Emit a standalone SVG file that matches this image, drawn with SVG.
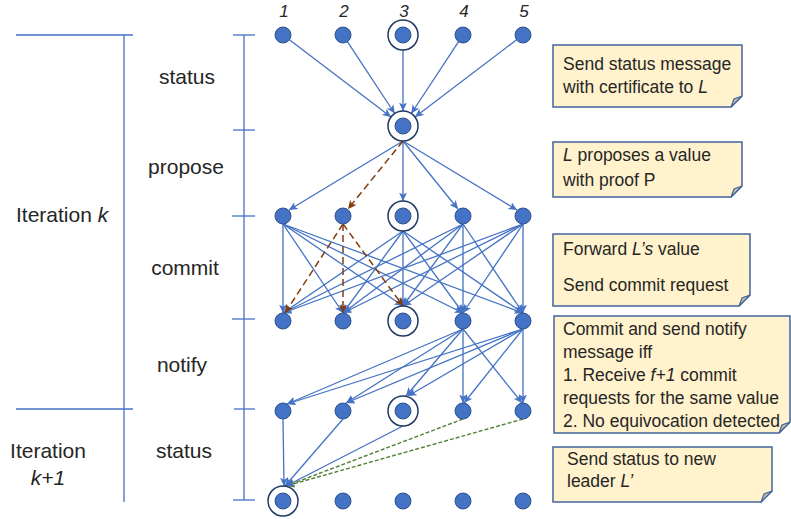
<svg xmlns="http://www.w3.org/2000/svg" width="791" height="519" viewBox="0 0 791 519">
<defs>
<marker id="ab" markerUnits="userSpaceOnUse" markerWidth="9" markerHeight="8" refX="8.5" refY="4" orient="auto"><path d="M0,0 L8.5,4 L0,8 L2.2,4 z" fill="#4472c4"/></marker>
<marker id="ar" markerUnits="userSpaceOnUse" markerWidth="9" markerHeight="8" refX="8.5" refY="4" orient="auto"><path d="M0,0 L8.5,4 L0,8 L2.2,4 z" fill="#843c0c"/></marker>
<marker id="ag" markerUnits="userSpaceOnUse" markerWidth="9" markerHeight="8" refX="8.5" refY="4" orient="auto"><path d="M0,0 L8.5,4 L0,8 L2.2,4 z" fill="#548235"/></marker>
</defs>
<style>
.t{font-family:"Liberation Sans",Arial,sans-serif;fill:#262626}
.side{font-size:21px}
.note{font-size:17.5px}
.num{font-size:17px;font-style:italic;text-anchor:middle}
.i{font-style:italic}
.br{stroke:#4472c4;stroke-width:1.3;fill:none}
.e{stroke:#4472c4;stroke-width:1.3;fill:none;marker-end:url(#ab)}
.eb{stroke:#843c0c;stroke-width:1.5;fill:none;stroke-dasharray:7 4;marker-end:url(#ar)}
.eg{stroke:#548235;stroke-width:1.4;fill:none;stroke-dasharray:4 2;marker-end:url(#ag)}
.n{fill:#4472c4;stroke:#2f528f;stroke-width:1}
.ring{fill:#fff;stroke:#203864;stroke-width:1.5}
.nb{fill:#fff2cc;stroke:#41649e;stroke-width:1.5}
.fold{fill:#c9bfa6;stroke:#41649e;stroke-width:1.2}
</style>
<rect width="791" height="519" fill="#fff"/>

<g id="brackets">
<line class="br" x1="16" y1="35" x2="133" y2="35"/>
<line class="br" x1="124" y1="35" x2="124" y2="502"/>
<line class="br" x1="16" y1="409" x2="133" y2="409"/>
<line class="br" x1="244" y1="35" x2="244" y2="500"/>
<line class="br" x1="233" y1="35" x2="255" y2="35"/>
<line class="br" x1="233" y1="130" x2="255" y2="130"/>
<line class="br" x1="232" y1="216" x2="255" y2="216"/>
<line class="br" x1="232" y1="319" x2="255" y2="319"/>
<line class="br" x1="234" y1="409" x2="255" y2="409"/>
<line class="br" x1="233" y1="500" x2="255" y2="500"/>
</g>

<g id="labels">
<text class="t side" x="187" y="84" text-anchor="middle">status</text>
<text class="t side" x="186" y="174" text-anchor="middle">propose</text>
<text class="t side" x="16" y="222">Iteration <tspan class="i">k</tspan></text>
<text class="t side" x="185" y="275" text-anchor="middle">commit</text>
<text class="t side" x="182" y="372" text-anchor="middle">notify</text>
<text class="t side" x="48" y="458" text-anchor="middle">Iteration</text>
<text class="t side i" x="48" y="485" text-anchor="middle">k+1</text>
<text class="t side" x="184" y="458" text-anchor="middle">status</text>
<text class="t num" x="284" y="17">1</text>
<text class="t num" x="344" y="17">2</text>
<text class="t num" x="404" y="17">3</text>
<text class="t num" x="464" y="17">4</text>
<text class="t num" x="524" y="17">5</text>
</g>

<g id="connectors">
<!-- status -> leader -->
<line class="e" x1="289.4" y1="39.8" x2="391" y2="116.9"/>
<line class="e" x1="347.4" y1="41.7" x2="394.7" y2="113.5"/>
<line class="e" x1="403" y1="50" x2="403" y2="111"/>
<line class="e" x1="458.6" y1="41.7" x2="411.3" y2="113.5"/>
<line class="e" x1="516.6" y1="39.8" x2="415" y2="116.9"/>
<!-- propose -->
<line class="e" x1="403" y1="141" x2="289" y2="210"/>
<line class="e" x1="403" y1="141" x2="403" y2="201"/>
<line class="e" x1="403" y1="141" x2="458" y2="209"/>
<line class="e" x1="403" y1="141" x2="517" y2="210"/>
<line class="eb" x1="403" y1="141" x2="348" y2="209"/>
<!-- commit: B1 -->
<line class="e" x1="283" y1="224" x2="283" y2="313"/>
<line class="e" x1="283" y1="224" x2="343" y2="313"/>
<line class="e" x1="283" y1="224" x2="403" y2="306"/>
<line class="e" x1="283" y1="224" x2="463" y2="313"/>
<line class="e" x1="283" y1="224" x2="523" y2="313"/>
<!-- commit: B3 -->
<line class="e" x1="403" y1="231" x2="283" y2="313"/>
<line class="e" x1="403" y1="231" x2="343" y2="313"/>
<line class="e" x1="403" y1="231" x2="403" y2="306"/>
<line class="e" x1="403" y1="231" x2="463" y2="313"/>
<line class="e" x1="403" y1="231" x2="523" y2="313"/>
<!-- commit: B4 -->
<line class="e" x1="463" y1="224" x2="283" y2="313"/>
<line class="e" x1="463" y1="224" x2="343" y2="313"/>
<line class="e" x1="463" y1="224" x2="403" y2="306"/>
<line class="e" x1="463" y1="224" x2="463" y2="313"/>
<line class="e" x1="463" y1="224" x2="523" y2="313"/>
<!-- commit: B5 -->
<line class="e" x1="523" y1="224" x2="283" y2="313"/>
<line class="e" x1="523" y1="224" x2="343" y2="313"/>
<line class="e" x1="523" y1="224" x2="403" y2="306"/>
<line class="e" x1="523" y1="224" x2="463" y2="313"/>
<line class="e" x1="523" y1="224" x2="523" y2="313"/>
<!-- commit: B2 forwards (dashed) -->
<line class="eb" x1="343" y1="224" x2="285" y2="313"/>
<line class="eb" x1="343" y1="224" x2="343" y2="313"/>
<line class="eb" x1="343" y1="224" x2="403" y2="306"/>
<!-- notify: C4 -->
<line class="e" x1="463" y1="329" x2="287" y2="404"/>
<line class="e" x1="463" y1="329" x2="346" y2="403"/>
<line class="e" x1="463" y1="329" x2="406" y2="396"/>
<line class="e" x1="463" y1="329" x2="463" y2="403"/>
<line class="e" x1="463" y1="329" x2="522" y2="403"/>
<!-- notify: C5 -->
<line class="e" x1="523" y1="329" x2="287" y2="404"/>
<line class="e" x1="523" y1="329" x2="346" y2="403"/>
<line class="e" x1="523" y1="329" x2="408" y2="396"/>
<line class="e" x1="523" y1="329" x2="464" y2="403"/>
<line class="e" x1="523" y1="329" x2="523" y2="403"/>
<!-- status k+1 -->
<line class="eg" x1="463" y1="419" x2="286" y2="486"/>
<line class="eg" x1="523" y1="419" x2="286" y2="486"/>
<line class="e" x1="283" y1="419" x2="284" y2="486"/>
<line class="e" x1="343" y1="419" x2="285" y2="486"/>
<line class="e" x1="403" y1="426" x2="286" y2="486"/>
</g>

<g id="nodes">
<g id="n-a1"><circle class="n" cx="283" cy="35" r="8"/></g>
<g id="n-a2"><circle class="n" cx="343" cy="35" r="8"/></g>
<g id="n-a3"><circle class="ring" cx="403" cy="35" r="15"/><circle class="n" cx="403" cy="35" r="8"/></g>
<g id="n-a4"><circle class="n" cx="463" cy="35" r="8"/></g>
<g id="n-a5"><circle class="n" cx="523" cy="35" r="8"/></g>
<g id="n-leader"><circle class="ring" cx="403" cy="126" r="15"/><circle class="n" cx="403" cy="126" r="8"/></g>
<g id="n-b1"><circle class="n" cx="283" cy="216" r="8"/></g>
<g id="n-b2"><circle class="n" cx="343" cy="216" r="8"/></g>
<g id="n-b3"><circle class="ring" cx="403" cy="216" r="15"/><circle class="n" cx="403" cy="216" r="8"/></g>
<g id="n-b4"><circle class="n" cx="463" cy="216" r="8"/></g>
<g id="n-b5"><circle class="n" cx="523" cy="216" r="8"/></g>
<g id="n-c1"><circle class="n" cx="283" cy="321" r="8"/></g>
<g id="n-c2"><circle class="n" cx="343" cy="321" r="8"/></g>
<g id="n-c3"><circle class="ring" cx="403" cy="321" r="15"/><circle class="n" cx="403" cy="321" r="8"/></g>
<g id="n-c4"><circle class="n" cx="463" cy="321" r="8"/></g>
<g id="n-c5"><circle class="n" cx="523" cy="321" r="8"/></g>
<g id="n-d1"><circle class="n" cx="283" cy="411" r="8"/></g>
<g id="n-d2"><circle class="n" cx="343" cy="411" r="8"/></g>
<g id="n-d3"><circle class="ring" cx="403" cy="411" r="15"/><circle class="n" cx="403" cy="411" r="8"/></g>
<g id="n-d4"><circle class="n" cx="463" cy="411" r="8"/></g>
<g id="n-d5"><circle class="n" cx="523" cy="411" r="8"/></g>
<g id="n-e1"><circle class="ring" cx="283" cy="501" r="15"/><circle class="n" cx="283" cy="501" r="8"/></g>
<g id="n-e2"><circle class="n" cx="343" cy="501" r="8"/></g>
<g id="n-e3"><circle class="n" cx="403" cy="501" r="8"/></g>
<g id="n-e4"><circle class="n" cx="463" cy="501" r="8"/></g>
<g id="n-e5"><circle class="n" cx="523" cy="501" r="8"/></g>
</g>

<g id="note-status">
<path class="nb" d="M553,45 H742 V96 L731,107 H553 Z"/>
<path class="fold" d="M742,96 L731,107 L734,99 Z"/>
<text class="t note" x="563" y="70">Send status message</text>
<text class="t note" x="563" y="93">with certificate to <tspan class="i">L</tspan></text>
</g>
<g id="note-propose">
<path class="nb" d="M553,142 H742 V186 L731,197 H553 Z"/>
<path class="fold" d="M742,186 L731,197 L734,189 Z"/>
<text class="t note" x="563" y="161"><tspan class="i">L</tspan> proposes a value</text>
<text class="t note" x="563" y="186">with proof P</text>
</g>
<g id="note-commit">
<path class="nb" d="M553,234 H750 V295 L739,306 H553 Z"/>
<path class="fold" d="M750,295 L739,306 L742,298 Z"/>
<text class="t note" x="563" y="255">Forward <tspan class="i">L’s</tspan> value</text>
<text class="t note" x="563" y="291">Send commit request</text>
</g>
<g id="note-notify">
<path class="nb" d="M554,316 H790 V422 L779,433 H554 Z"/>
<path class="fold" d="M790,422 L779,433 L782,425 Z"/>
<text class="t note" x="563" y="335">Commit and send notify</text>
<text class="t note" x="563" y="358">message iff</text>
<text class="t note" x="563" y="381">1. Receive <tspan class="i">f+1</tspan> commit</text>
<text class="t note" x="563" y="404">requests for the same value</text>
<text class="t note" x="563" y="427">2. No equivocation detected</text>
</g>
<g id="note-status2">
<path class="nb" d="M553,447 H772 V491 L761,502 H553 Z"/>
<path class="fold" d="M772,491 L761,502 L764,494 Z"/>
<text class="t note" x="567" y="465">Send status to new</text>
<text class="t note" x="567" y="487">leader <tspan class="i">L’</tspan></text>
</g>
</svg>
